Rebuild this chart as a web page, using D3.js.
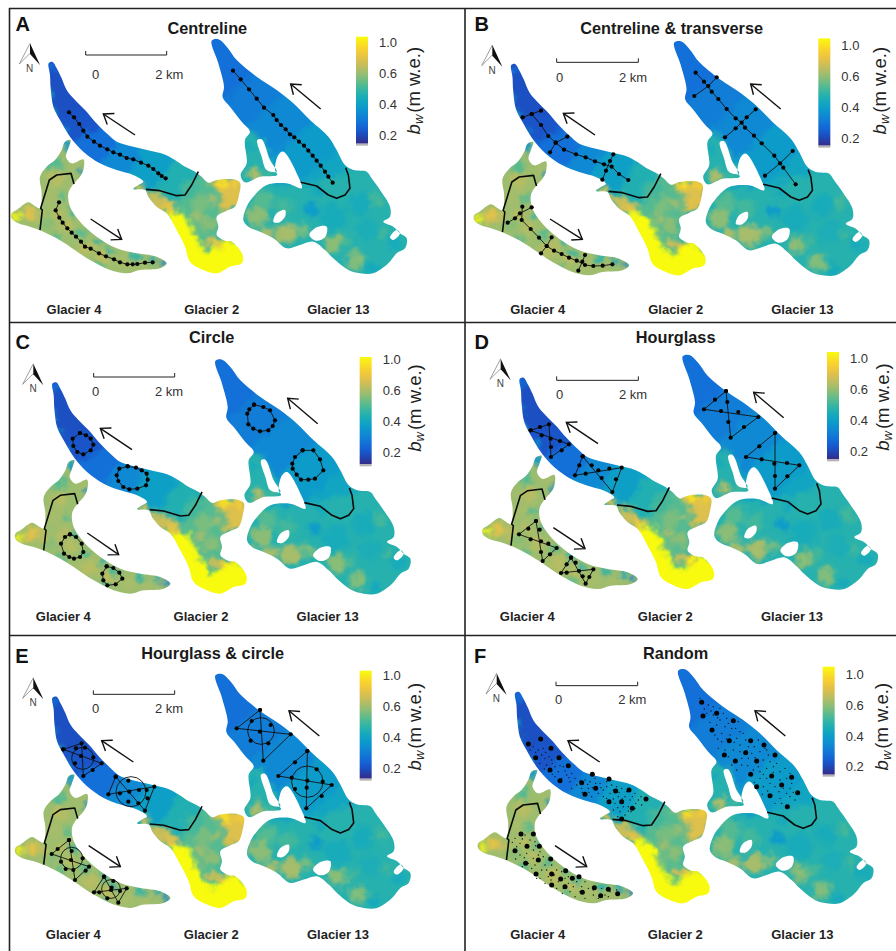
<!DOCTYPE html>
<html>
<head>
<meta charset="utf-8">
<script src="https://cdn.jsdelivr.net/npm/d3@7"></script>
<style>
  html, body { margin: 0; padding: 0; background: #fff; }
  svg { display: block; font-family: "Liberation Sans", Arial, sans-serif; }
  .title { font-weight: bold; font-size: 16.3px; fill: #1a1a1a; text-anchor: middle; }
  .letter { font-weight: bold; font-size: 20px; fill: #111; text-anchor: middle; }
  .glacier { font-weight: bold; font-size: 13px; fill: #222; text-anchor: middle; }
  .small { font-size: 13px; fill: #333; text-anchor: middle; }
  .tick text { font-size: 13px; fill: #333; font-family: "Liberation Sans", Arial, sans-serif; }
  .unit { font-size: 18.5px; fill: #222; text-anchor: middle; }
</style>
</head>
<body>
<div id="chart"></div>
<script>
const tickLabels = ['1.0', '0.6', '0.4', '0.2']
const glacierNames = ['Glacier 4', 'Glacier 2', 'Glacier 13']
const panelLetters = ['A', 'B', 'C', 'D', 'E', 'F']
const panelTitles = ['Centreline', 'Centreline & transverse', 'Circle', 'Hourglass', 'Hourglass & circle', 'Random']

/* glacier outlines */
const outlineG2 = [[146,190],[158,186],[170,205],[185,235],[200,270],[225,300],[255,330],[285,365],[320,400],[350,425],[400,440],[450,452],[490,462],[525,480],[550,497],[585,515],[605,530],[625,548],[650,540],[700,538],[720,548],[717,585],[705,620],[680,632],[650,650],[655,680],[650,705],[675,722],[695,725],[728,765],[725,790],[690,800],[650,820],[610,810],[570,785],[555,740],[530,690],[500,640],[470,620],[445,590],[435,570],[400,567],[415,555],[430,545],[400,525],[350,510],[300,490],[250,455],[210,410],[180,360],[160,320],[152,265],[150,225]]
const outlineG13 = [[635,122],[655,118],[680,140],[710,180],[770,230],[830,270],[880,310],[930,360],[985,410],[1010,450],[1035,495],[1060,510],[1100,515],[1115,535],[1140,570],[1170,620],[1170,650],[1150,665],[1180,680],[1200,700],[1220,715],[1215,745],[1190,760],[1165,790],[1120,820],[1080,820],[1045,810],[1000,775],[975,750],[940,725],[900,735],[860,745],[820,715],[780,695],[745,680],[730,660],[740,620],[760,590],[800,555],[860,550],[905,565],[895,530],[850,455],[835,465],[825,510],[832,525],[780,530],[735,547],[722,525],[740,490],[735,420],[750,395],[725,365],[690,320],[668,292],[672,260],[655,190]]
const outlineG4 = [[35,640],[50,630],[85,607],[100,615],[120,625],[125,580],[120,530],[140,500],[165,480],[185,450],[195,425],[212,420],[205,445],[198,470],[215,490],[250,478],[250,510],[240,530],[218,555],[205,580],[210,620],[240,665],[290,710],[350,745],[410,760],[470,770],[500,790],[480,805],[420,810],[380,820],[330,810],[270,780],[210,740],[170,715],[130,695],[90,680],[55,670],[35,655]]
const holesG13 = [
  [[772,420],[785,418],[810,480],[830,515],[800,510],[785,470]],
  [[820,665],[830,640],[855,630],[855,650],[835,668]],
  [[928,705],[950,682],[980,680],[975,712],[948,722]],
  [[1170,712],[1190,690],[1200,700],[1180,720]]
]

/* snow line on each glacier */
const snowLines = [
  [[438,568],[480,572],[530,587],[555,585],[575,555],[595,515]],
  [[902,547],[950,558],[985,585],[1010,595],[1035,585],[1050,565],[1045,525],[1037,503]],
  [[120,690],[127,630],[122,625],[148,540],[170,525],[213,520],[222,552]]
]

/* winter balance zones: bw, then the corners of the zone */
const zonesG2 = [
  [0.2, [[100,150],[220,150],[290,320],[150,360]]],
  [0.21, [[150,360],[290,320],[320,370],[190,440]]],
  [0.27, [[190,440],[320,370],[370,400],[290,520]]],
  [0.33, [[290,520],[370,400],[440,420],[380,540]]],
  [0.39, [[380,540],[440,420],[540,450],[470,570]]],
  [0.45, [[470,570],[540,450],[620,490],[530,610]]],
  [0.52, [[530,610],[620,490],[660,540],[660,700],[600,740],[540,680]]],
  [0.78, [[625,540],[730,530],[730,610],[690,630],[660,640],[670,590],[650,570]]],
  [0.72, [[430,570],[500,590],[530,630],[490,640],[450,610]]],
  [1.05, [[497,632],[552,640],[582,700],[602,740],[625,762],[668,728],[690,712],[748,760],[748,812],[650,838],[590,828],[542,792],[528,735],[508,680]]]
]
const patchesG2 = [[152,200,14,0.27],[148,285,10,0.42],[163,335,10,0.42],[190,390,10,0.38],[570,565,28,0.5],[600,610,28,0.56],[625,670,22,0.58],[590,690,16,0.55],[625,728,14,0.78],[652,730,14,0.82],[680,712,10,0.9],[590,650,15,0.62],[505,618,16,0.8],[420,562,14,0.8],[665,545,16,0.98],[705,548,12,0.9],[640,600,14,0.62]]
const zonesG13 = [
  [0.27, [[560,60],[800,60],[840,155],[620,345]]],
  [0.3, [[620,345],[840,155],[910,235],[690,425]]],
  [0.33, [[690,425],[910,235],[990,325],[770,515]]],
  [0.38, [[770,515],[990,325],[1070,405],[850,595]]],
  [0.41, [[850,595],[1070,405],[1140,465],[920,655]]],
  [0.46, [[700,400],[770,400],[850,540],[700,560]]],
  [0.46, [[700,560],[920,555],[1150,480],[1250,640],[1250,830],[700,830]]]
]
const patchesG13 = [[760,522,20,0.64],[805,522,14,0.5],[745,440,12,0.42],[790,600,30,0.52],[770,650,32,0.58],[800,700,22,0.62],[860,700,32,0.62],[910,690,18,0.56],[850,620,28,0.5],[935,625,20,0.38],[1000,650,40,0.43],[1080,610,35,0.43],[1130,600,22,0.5],[1100,690,32,0.44],[1000,730,28,0.58],[1040,720,18,0.5],[1065,780,28,0.57],[1115,805,16,0.42],[1185,730,22,0.43],[1150,700,16,0.5],[950,570,16,0.42]]
const zonesG4 = []
const patchesG4 = [[200,430,14,0.36],[205,450,8,0.38],[165,490,22,0.52],[232,498,14,0.62],[247,515,9,0.33],[170,535,24,0.66],[150,585,22,0.62],[190,590,12,0.52],[48,650,12,1.05],[85,640,20,0.8],[115,650,18,0.68],[140,670,20,0.58],[170,640,18,0.66],[215,640,10,0.47],[200,680,20,0.66],[245,700,14,0.52],[260,740,26,0.66],[300,720,10,0.44],[330,755,12,0.46],[310,775,22,0.68],[370,790,24,0.62],[300,795,12,0.52],[410,770,14,0.46],[425,795,18,0.62],[460,775,10,0.4],[490,790,10,0.3],[170,710,12,0.52]]
const baseBw = [0.45, 0.46, 0.6]

/* survey lines, in the crop of each panel */
const linesA = [
  [[207,337],[222,352],[238,372],[250,392],[262,410],[282,425],[300,437],[322,448],[340,457],[360,464],[380,474],[400,478],[423,488],[445,497],[460,507],[475,520],[485,528],[497,535]],
  [[699,212],[722,238],[747,268],[770,296],[792,323],[820,345],[830,360],[843,375],[857,388],[870,403],[883,412],[897,425],[912,437],[925,452],[938,467],[950,482],[962,497],[975,515],[985,530],[998,548]],
  [[177,607],[167,631],[178,653],[188,668],[202,685],[215,698],[228,710],[243,725],[255,740],[272,746],[297,760],[318,769],[342,778],[360,787],[382,793],[398,793],[412,792],[435,788],[458,787]]
]
const linesB = [
  [[200,342],[228,375],[250,408],[272,428],[297,449],[333,463],[362,472],[390,484],[417,493],[440,500],[462,522],[490,540]],
  [[173,352],[200,342],[228,332]],
  [[255,457],[272,428],[307,410]],
  [[412,539],[423,512],[435,483],[445,463]],
  [[692,218],[717,245],[740,275],[760,297],[785,327],[812,355],[830,368],[840,383],[867,407],[890,430],[928,467],[955,503],[992,553]],
  [[688,288],[730,258],[755,232]],
  [[780,412],[812,385],[845,352],[872,328]],
  [[900,527],[945,490],[983,453]],
  [[172,620],[170,660],[197,687],[222,713],[245,738],[267,752],[290,762],[312,773],[335,782],[360,795],[385,798],[413,797],[442,793]],
  [[128,668],[150,655],[165,640],[200,622]],
  [[228,760],[245,738],[260,712]],
  [[340,812],[352,785],[360,765]]
]
const linesC = [
  [[240,333],[258,340],[272,350],[280,368],[272,385],[250,397],[232,390],[220,372],[218,350],[240,333]],
  [[383,433],[408,437],[425,445],[440,455],[443,473],[438,490],[412,500],[388,502],[370,495],[355,477],[350,460],[358,440],[383,433]],
  [[762,248],[790,255],[810,265],[825,295],[818,312],[805,325],[780,328],[760,320],[745,307],[742,275],[748,262],[762,248]],
  [[908,385],[940,385],[960,412],[970,445],[945,470],[925,473],[903,473],[890,458],[878,440],[877,425],[885,405],[908,385]],
  [[210,637],[228,645],[245,665],[250,690],[240,705],[222,710],[208,705],[192,695],[183,665],[195,645],[210,637]],
  [[320,733],[340,738],[358,752],[367,770],[347,787],[322,790],[310,775],[307,755],[320,733]]
]
const linesD = [
  [[197,325],[252,307],[258,405],[312,367],[197,325]],
  [[353,403],[442,510],[470,437],[330,460],[353,403]],
  [[783,207],[797,347],[880,285],[717,262],[783,207]],
  [[930,333],[930,500],[1003,430],[843,405],[930,333]],
  [[213,597],[233,717],[275,678],[162,637],[213,597]],
  [[318,707],[362,785],[385,742],[288,753],[318,707]]
]
const dotsD = [[225,315],[230,340],[257,350],[285,357],[258,375],[290,385],[343,430],[362,455],[400,445],[433,440],[380,430],[410,468],[453,472],[750,233],[787,240],[790,300],[768,267],[820,270],[837,315],[883,373],[890,412],[928,425],[966,423],[930,462],[967,463],[190,620],[197,652],[224,623],[228,658],[228,690],[250,665],[255,697],[305,727],[305,752],[332,722],[342,747],[373,765],[353,763]]
const linesE = [
  [[190,343],[245,325],[250,423],[305,385],[190,343]],
  [[347,425],[435,527],[463,455],[325,478],[347,425]],
  [[780,225],[790,377],[872,298],[710,280],[780,225]],
  [[922,348],[919,520],[995,450],[835,423],[922,348]],
  [[207,615],[225,735],[267,695],[155,657],[207,615]],
  [[312,725],[355,803],[380,760],[282,772],[312,725]]
]
const dotsE = [[228,340],[255,338],[280,367],[278,405],[243,363],[225,385],[385,437],[417,465],[388,470],[360,475],[443,490],[440,465],[385,500],[415,505],[755,258],[812,270],[780,290],[752,317],[805,325],[885,382],[950,403],[875,428],[922,437],[968,440],[885,462],[920,458],[965,483],[173,642],[215,648],[183,680],[213,675],[248,670],[197,702],[220,705],[257,707],[340,738],[360,768],[298,772],[333,765],[322,790],[335,758]]
const ringsE = [[248,370,33],[393,470,45],[783,288,40],[922,440,47],[215,670,33],[333,762,28]]
const bigDotsF = [[190,327],[227,312],[258,340],[212,368],[282,368],[310,392],[255,405],[285,437],[382,418],[432,432],[350,443],[392,460],[452,468],[492,465],[360,478],[470,500],[543,492],[432,500],[502,520],[470,552],[710,202],[714,243],[755,235],[805,257],[741,285],[793,317],[857,317],[897,330],[778,360],[842,353],[930,360],[811,378],[875,378],[920,423],[857,418],[980,427],[875,455],[915,482],[950,450],[998,473],[967,515],[168,597],[205,597],[150,647],[186,634],[223,634],[182,685],[257,672],[220,675],[302,707],[342,725],[213,717],[260,717],[287,732],[260,750],[300,755],[352,772],[388,758],[430,763],[458,776],[407,782],[322,730]]
const tinyDotsF = [[205,335],[220,345],[235,340],[195,345],[230,360],[215,365],[240,370],[225,385],[245,390],[260,375],[270,395],[250,410],[280,410],[270,425],[295,395],[305,420],[320,415],[330,430],[290,430],[315,440],[335,450],[320,460],[350,460],[360,435],[375,440],[370,460],[390,430],[405,445],[415,465],[400,475],[380,485],[425,440],[440,450],[455,455],[470,460],[435,475],[415,485],[460,485],[485,470],[480,485],[510,475],[495,495],[520,495],[450,505],[475,515],[490,515],[465,530],[480,540],[510,520],[530,510],
  [212,352],[242,352],[252,365],[262,385],[238,402],[285,392],[300,408],[262,418],[312,428],[345,438],[368,448],[382,458],[352,472],[392,445],[408,458],[425,455],[445,465],[462,472],[425,490],[445,492],[472,492],[502,485],[528,485],[512,505],[458,518],[445,525],[498,530],[458,545],[490,528],[372,472],
  [705,190],[730,210],[745,215],[765,220],[725,235],[745,240],[775,235],[765,255],[785,250],[820,260],[755,270],[780,275],[800,280],[825,290],[770,295],[750,300],[795,300],[815,310],[835,295],[770,320],[825,330],[850,335],[880,315],[900,340],[760,340],[805,345],[825,350],[860,355],[885,350],[910,360],[790,365],[830,370],[850,370],[895,375],[915,380],[935,385],[800,390],[830,390],[865,405],[885,410],[905,400],[945,410],[960,400],[885,430],[905,430],[945,435],[965,430],[895,455],[930,455],[955,460],[975,460],[920,480],[945,490],[975,485],[930,505],[950,505],[990,495],
  [718,222],[738,228],[758,248],[735,262],[790,265],[812,280],[758,312],[785,312],[808,322],[842,315],[868,335],[845,348],[780,345],[870,368],[905,345],[925,395],[815,405],[848,392],[880,395],[895,418],[925,412],[975,415],[868,442],[915,445],[980,445],[908,468],[942,470],[965,475],[892,478],[985,472],
  [150,610],[180,600],[195,615],[165,625],[210,620],[155,635],[205,645],[185,655],[225,650],[165,660],[205,670],[235,665],[190,685],[240,690],[200,700],[230,705],[260,690],[275,705],[250,725],[225,730],[290,710],[240,745],[280,740],[310,725],[325,730],[275,760],[295,760],[325,755],[335,740],[360,740],[315,770],[345,770],[370,760],[385,780],[410,760],[435,770],[455,765],[360,790],[420,780],[455,780],
  [172,612],[142,622],[212,632],[178,668],[220,660],[152,672],[172,695],[210,690],[245,705],[268,720],[215,730],[300,730],[258,735],[310,745],[350,755],[292,775],[330,785],[385,765],[400,790],[430,785]]

/* arrows along the flow, one set for each panel: G2, G13, G4 */
const arrowLines = [
  [[[405,405],[310,342]], [[962,327],[872,252]], [[272,657],[365,718]]],
  [[[390,405],[295,340]], [[947,327],[857,252]], [[255,657],[352,718]]],
  [[[396,383],[301,319]], [[953,305],[863,229]], [[262,633],[356,698]]],
  [[[399,365],[304,301]], [[956,287],[866,211]], [[265,617],[360,680]]],
  [[[400,381],[305,317]], [[958,303],[867,227]], [[266,632],[361,695]]],
  [[[404,381],[309,317]], [[961,303],[870,227]], [[270,632],[365,695]]]
]

var fullWidth = 896
var fullHeight = 951
var cropZoom = 3

var svg = d3.select('#chart').append('svg')
  .attr('width', fullWidth)
  .attr('height', fullHeight)

/* placement of each panel: crop origin in the page, shift of the map against panel A,
   scale bar, north arrow, colour bar, captions; all in crop pixels of that panel */
var layouts = [
  {ox: 0,   oy: 0,   dx: 0,   dy: 0,   bar: [257,165,500], north: [90,130],  barX: 1068, barY: [110,437], tickY: [128,405], unit: [1240,272], title: [622,85], letter: [68,72], names: [[222,927],[635,927],[1015,927]], scaleY: 222, scaleX: [287,508]},
  {ox: 465, oy: 0,   dx: 462.5, dy: 2, bar: [275,187,520], north: [82,135],  barX: 1060, barY: [115,443], tickY: [137,415], unit: [1245,272], title: [620,85], letter: [50,72], names: [[218,927],[632,927],[1012,927]], scaleY: 232, scaleX: [284,504]},
  {ox: 0,   oy: 322, dx: 3.7, dy: 320.3, bar: [281,165,524], north: [100,125], barX: 1079, barY: [105,433], tickY: [113,390], unit: [1245,258], title: [635,47], letter: [68,60], names: [[190,883],[603,883],[983,883]], scaleY: 207, scaleX: [287,507]},
  {ox: 465, oy: 322, dx: 471, dy: 315.7, bar: [275,175,520], north: [107,110], barX: 1086, barY: [90,418], tickY: [110,388], unit: [1253,255], title: [632,47], letter: [50,60], names: [[187,883],[601,883],[981,883]], scaleY: 218, scaleX: [284,504]},
  {ox: 0,   oy: 635, dx: 3.7, dy: 634.6, bar: [280,178,524], north: [100,128], barX: 1079, barY: [107,437], tickY: [122,400], unit: [1245,275], title: [638,54], letter: [66,62], names: [[220,899],[634,899],[1014,899]], scaleY: 220, scaleX: [287,507]},
  {ox: 465, oy: 635, dx: 466.5, dy: 630, bar: [273,152,518], north: [95,115], barX: 1073, barY: [95,425], tickY: [118,395], unit: [1251,275], title: [632,54], letter: [45,62], names: [[218,899],[631,899],[1012,899]], scaleY: 193, scaleX: [281,502]}
]

/* the colour bar has evenly spaced labels for uneven values */
var parula = ['#352A87','#0F5CDD','#1481D6','#06A4CA','#2EB7A4','#87BF77','#D1BB59','#FEC832','#F9FB0E']
var ramp = d3.interpolateRgbBasis(parula)
var bwToRamp = d3.scaleLinear()
  .domain([0.135, 0.2, 0.4, 0.6, 1.0, 1.05])
  .range([0, 0.095, 0.38, 0.664, 0.945, 1])
  .clamp(true)
var color = function(bw) { return ramp(bwToRamp(bw)) }

var defs = svg.append('defs')

/* soft edges and a small wobble so the zones look like the gridded map */
var soft = defs.append('filter').attr('id', 'soft')
  .attr('x', '-20%').attr('y', '-20%').attr('width', '140%').attr('height', '140%')
  .attr('color-interpolation-filters', 'sRGB')
soft.append('feGaussianBlur').attr('in', 'SourceGraphic').attr('stdDeviation', 2.8).attr('result', 'b')
soft.append('feTurbulence').attr('type', 'fractalNoise').attr('baseFrequency', 0.11)
  .attr('numOctaves', 2).attr('seed', 4).attr('result', 'n')
soft.append('feDisplacementMap').attr('in', 'b').attr('in2', 'n').attr('scale', 12)
  .attr('xChannelSelector', 'R').attr('yChannelSelector', 'G')

var gradient = defs.append('linearGradient').attr('id', 'barRamp')
  .attr('x1', 0).attr('y1', 1).attr('x2', 0).attr('y2', 0)
gradient.selectAll('stop').data(d3.range(0, 1.001, 0.05)).enter().append('stop')
  .attr('offset', function(d) { return d })
  .attr('stop-color', function(d) { return ramp(d) })

defs.append('marker').attr('id', 'head')
  .attr('markerUnits', 'userSpaceOnUse')
  .attr('viewBox', '-12 -8 14 16').attr('markerWidth', 14).attr('markerHeight', 16)
  .attr('refX', 0).attr('refY', 0).attr('orient', 'auto')
  .append('path')
  .attr('d', 'M-9,-6.5L0,0L-9,6.5')
  .attr('fill', 'none').attr('stroke', '#111').attr('stroke-width', 1.4)

var glaciers = [
  {outline: outlineG4, holes: [], zones: zonesG4, patches: patchesG4, base: baseBw[2]},
  {outline: outlineG2, holes: [], zones: zonesG2, patches: patchesG2, base: baseBw[0]},
  {outline: outlineG13, holes: holesG13, zones: zonesG13, patches: patchesG13, base: baseBw[1]}
]

function drawPanel(p, i) {
  /* map scales carry panel A crop pixels, crop scales carry this panel's crop */
  var mapX = d3.scaleLinear().domain([0, fullWidth * cropZoom]).range([p.dx, p.dx + fullWidth])
  var mapY = d3.scaleLinear().domain([0, fullHeight * cropZoom]).range([p.dy, p.dy + fullHeight])
  var x = d3.scaleLinear().domain([0, fullWidth * cropZoom]).range([p.ox, p.ox + fullWidth])
  var y = d3.scaleLinear().domain([0, fullHeight * cropZoom]).range([p.oy, p.oy + fullHeight])
  var mapLine = d3.line().x(function(d) { return mapX(d[0]) }).y(function(d) { return mapY(d[1]) })
  var smooth = d3.line().x(function(d) { return mapX(d[0]) }).y(function(d) { return mapY(d[1]) })
    .curve(d3.curveCatmullRomClosed.alpha(0.5))
  var line = d3.line().x(function(d) { return x(d[0]) }).y(function(d) { return y(d[1]) })

  var g = svg.append('g').attr('class', 'panel-' + panelLetters[i])

  glaciers.forEach(function(gl, k) {
    var clipId = 'clip' + i + '_' + k
    var shape = [gl.outline].concat(gl.holes).map(function(r) { return smooth(r) }).join('')
    defs.append('clipPath').attr('id', clipId).append('path')
      .attr('d', shape).attr('clip-rule', 'evenodd')
    var clipped = g.append('g').attr('clip-path', 'url(#' + clipId + ')')
    var field = clipped.append('g').attr('filter', 'url(#soft)')
    field.append('path').attr('d', mapLine(gl.outline) + 'Z')
      .attr('fill', color(gl.base)).attr('stroke', color(gl.base)).attr('stroke-width', 30)
    field.selectAll('.zone').data(gl.zones).enter().append('path')
      .attr('class', 'zone')
      .attr('d', function(d) { return mapLine(d[1]) + 'Z' })
      .attr('fill', function(d) { return color(d[0]) })
      .attr('stroke', function(d) { return color(d[0]) })
    field.selectAll('circle').data(gl.patches).enter().append('circle')
      .attr('cx', function(d) { return mapX(d[0]) })
      .attr('cy', function(d) { return mapY(d[1]) })
      .attr('r', function(d) { return d[2] / cropZoom })
      .attr('fill', function(d) { return color(d[3]) })
  })

  g.selectAll('.snow').data(snowLines).enter().append('path')
    .attr('class', 'snow')
    .attr('d', mapLine).attr('fill', 'none')
    .attr('stroke', '#0a0a0a').attr('stroke-width', 1.6).attr('stroke-linejoin', 'round')

  /* flow arrows */
  g.selectAll('.arrow').data(arrowLines[i]).enter().append('path')
    .attr('class', 'arrow')
    .attr('d', line).attr('fill', 'none')
    .attr('stroke', '#111').attr('stroke-width', 1.4)
    .attr('marker-end', 'url(#head)')

  /* survey design */
  var lines = [linesA, linesB, linesC, linesD, linesE, []][i]
  var extra = [[], [], [], dotsD, dotsE, []][i]
  g.selectAll('.survey').data(lines).enter().append('path')
    .attr('class', 'survey')
    .attr('d', line).attr('fill', 'none')
    .attr('stroke', '#111').attr('stroke-width', 0.9)
  if (i == 4) {
    g.selectAll('.ring').data(ringsE).enter().append('circle')
      .attr('class', 'ring')
      .attr('cx', function(d) { return x(d[0]) })
      .attr('cy', function(d) { return y(d[1]) })
      .attr('r', function(d) { return d[2] / cropZoom })
      .attr('fill', 'none').attr('stroke', '#111').attr('stroke-width', 0.9)
  }
  var dots = d3.merge(lines).concat(extra)
  g.selectAll('.dot').data(dots).enter().append('circle')
    .attr('class', 'dot')
    .attr('cx', function(d) { return x(d[0]) })
    .attr('cy', function(d) { return y(d[1]) })
    .attr('r', 2.1).attr('fill', '#050505')
  if (i == 5) {
    g.selectAll('.tiny').data(tinyDotsF).enter().append('circle')
      .attr('class', 'tiny')
      .attr('cx', function(d) { return x(d[0]) })
      .attr('cy', function(d) { return y(d[1]) })
      .attr('r', 0.7).attr('fill', '#111')
    g.selectAll('.big').data(bigDotsF).enter().append('circle')
      .attr('class', 'big')
      .attr('cx', function(d) { return x(d[0]) })
      .attr('cy', function(d) { return y(d[1]) })
      .attr('r', 2.5).attr('fill', '#050505')
  }

  /* scale bar */
  var b = p.bar
  g.append('path')
    .attr('d', line([[b[0], b[1] - 12], [b[0], b[1]], [b[2], b[1]], [b[2], b[1] - 12]]))
    .attr('fill', 'none').attr('stroke', '#222').attr('stroke-width', 1)
  g.append('text').attr('class', 'small').attr('x', x(p.scaleX[0])).attr('y', y(p.scaleY))
    .attr('dy', '0.35em').text('0')
  g.append('text').attr('class', 'small').attr('x', x(p.scaleX[1])).attr('y', y(p.scaleY))
    .attr('dy', '0.35em').text('2 km')

  /* north arrow */
  var n = p.north
  g.append('path')
    .attr('d', line([[n[0], n[1]], [n[0] - 32, n[1] + 62], [n[0], n[1] + 30]]))
    .attr('fill', '#fff').attr('stroke', '#777').attr('stroke-width', 0.7)
  g.append('path')
    .attr('d', line([[n[0], n[1]], [n[0] + 30, n[1] + 65], [n[0], n[1] + 32]]) + 'Z')
    .attr('fill', '#111')
  g.append('text').attr('x', x(n[0] - 1)).attr('y', y(n[1] + 75))
    .attr('dy', '0.35em').attr('text-anchor', 'middle')
    .style('font-size', '10px').style('fill', '#444').text('N')

  /* colour bar */
  var barLeft = x(p.barX), barTop = y(p.barY[0]), barBottom = y(p.barY[1])
  g.append('rect').attr('x', barLeft).attr('y', barTop)
    .attr('width', 12).attr('height', barBottom - barTop - 2)
    .attr('fill', 'url(#barRamp)')
  g.append('rect').attr('x', barLeft).attr('y', barBottom - 2)
    .attr('width', 12).attr('height', 2).attr('fill', '#b4b4b4')
  var tickY = d3.scalePoint().domain(tickLabels).range([y(p.tickY[0]), y(p.tickY[1])])
  var axis = g.append('g')
    .attr('transform', 'translate(' + (barLeft + 12) + ',0)')
    .call(d3.axisRight(tickY).tickSize(0).tickPadding(11))
  axis.select('.domain').remove()

  var unit = g.append('text').attr('class', 'unit')
    .attr('transform', 'translate(' + x(p.unit[0]) + ',' + y(p.unit[1]) + ') rotate(-90)')
    .attr('dy', '0.35em')
  unit.append('tspan').style('font-style', 'italic').text('b')
  unit.append('tspan').style('font-style', 'italic').style('font-size', '13px').attr('dy', 3).text('w')
  unit.append('tspan').attr('dy', -3).attr('dx', 2).text('(m w.e.)')

  /* captions */
  g.append('text').attr('class', 'title').attr('x', x(p.title[0])).attr('y', y(p.title[1]))
    .attr('dy', '0.35em').text(panelTitles[i])
  g.append('text').attr('class', 'letter').attr('x', x(p.letter[0])).attr('y', y(p.letter[1]))
    .attr('dy', '0.35em').text(panelLetters[i])
  g.selectAll('.glacier').data(glacierNames).enter().append('text')
    .attr('class', 'glacier')
    .attr('x', function(d, k) { return x(p.names[k][0]) })
    .attr('y', function(d, k) { return y(p.names[k][1]) })
    .attr('dy', '0.35em')
    .text(function(d) { return d })
}

layouts.forEach(drawPanel)

/* frame between the panels */
var frame = svg.append('g').attr('stroke', '#222').attr('stroke-width', 1.6)
frame.append('line').attr('x1', 9).attr('x2', fullWidth).attr('y1', 8.5).attr('y2', 8.5)
frame.append('line').attr('x1', 9).attr('x2', fullWidth).attr('y1', 322.5).attr('y2', 322.5)
frame.append('line').attr('x1', 9).attr('x2', fullWidth).attr('y1', 635.5).attr('y2', 635.5)
frame.append('line').attr('x1', 9.5).attr('x2', 9.5).attr('y1', 8).attr('y2', fullHeight)
frame.append('line').attr('x1', 465).attr('x2', 465).attr('y1', 8).attr('y2', fullHeight)
</script>
</body>
</html>
